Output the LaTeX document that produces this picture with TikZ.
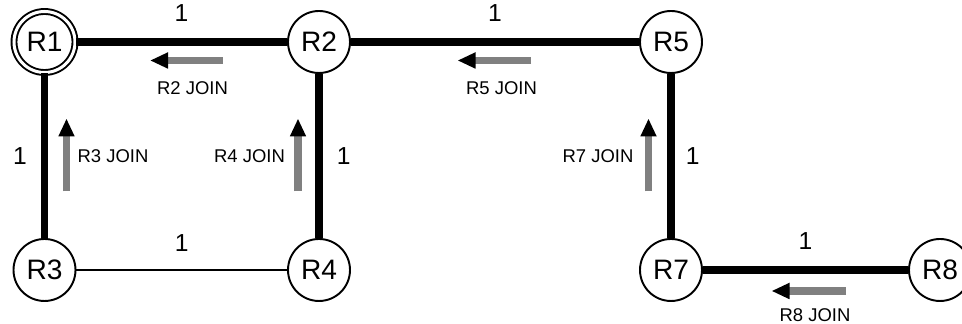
\documentclass[tikz,border=0pt]{standalone}
\usepackage{fontspec}
\setmainfont{Liberation Sans}
\usetikzlibrary{positioning, arrows.meta}
\definecolor{pfeilgrau}{HTML}{808080}

\begin{document}
\begin{tikzpicture}[
    router/.style={
        circle,
        draw=black,
        line width=1.1pt,
        fill=white,
        minimum size=1.24cm,
        inner sep=0pt,
        font=\fontsize{16}{19}\selectfont,
    },
    wurzel/.style={
        router,
        double,
        double distance=0.06cm,
        minimum size=1.22cm,
    },
    pfad/.style={line width=4.3pt},
    nebenpfad/.style={line width=0.6pt},
    kosten/.style={inner sep=0pt, font=\fontsize{14}{17}\selectfont},
    joinpfeil/.style={draw=pfeilgrau, line width=4.5pt,
        -{Triangle[color=black, length=0.36cm, width=0.3cm]}},
    joinlabel/.style={inner sep=0pt, font=\fontsize{10.5}{12}\selectfont},
]

\useasboundingbox (0,0) rectangle (19.24,-6.48);

\node[wurzel] (r1) at ( 0.89, -0.84) {R1};
\node[router] (r2) at ( 6.38, -0.84) {R2};
\node[router] (r5) at (13.42, -0.84) {R5};
\node[router] (r3) at ( 0.89, -5.4)  {R3};
\node[router] (r4) at ( 6.38, -5.4)  {R4};
\node[router] (r7) at (13.42, -5.4)  {R7};
\node[router] (r8) at (18.8,  -5.4)  {R8};

\draw[pfad] (r1) -- node[kosten, above=0.33cm] {1} (r2);
\draw[pfad] (r2) -- node[kosten, above=0.33cm] {1} (r5);
\draw[pfad] (r1) -- node[kosten, left=0.28cm] {1} (r3);
\draw[pfad] (r2) -- node[kosten, right=0.28cm] {1} (r4);
\draw[pfad] (r5) -- node[kosten, right=0.22cm] {1} (r7);
\draw[nebenpfad] (r3) -- node[kosten, above=0.36cm] {1} (r4);
\draw[pfad] (r7) -- node[kosten, above=0.34cm] {1} (r8);

% JOIN-Meldungen
\coordinate (j2a) at ( 4.45, -1.21); \coordinate (j2b) at ( 3.0,  -1.21);
\coordinate (j5a) at (10.62, -1.21); \coordinate (j5b) at ( 9.15, -1.21);
\coordinate (j3a) at ( 1.33, -3.83); \coordinate (j3b) at ( 1.33, -2.37);
\coordinate (j4a) at ( 5.96, -3.83); \coordinate (j4b) at ( 5.96, -2.37);
\coordinate (j7a) at (12.97, -3.83); \coordinate (j7b) at (12.97, -2.37);
\coordinate (j8a) at (16.92, -5.82); \coordinate (j8b) at (15.43, -5.82);

\draw[joinpfeil] (j2a) -- (j2b);
\draw[joinpfeil] (j5a) -- (j5b);
\draw[joinpfeil] (j3a) -- (j3b);
\draw[joinpfeil] (j4a) -- (j4b);
\draw[joinpfeil] (j7a) -- (j7b);
\draw[joinpfeil] (j8a) -- (j8b);

\node[joinlabel] (l2) at ( 3.85, -1.76) {R2 JOIN};
\node[joinlabel] (l5) at (10.03, -1.76) {R5 JOIN};
\node[joinlabel] (l3) at ( 2.26, -3.12) {R3 JOIN};
\node[joinlabel] (l4) at ( 4.99, -3.12) {R4 JOIN};
\node[joinlabel] (l7) at (11.96, -3.12) {R7 JOIN};
\node[joinlabel] (l8) at (16.3,  -6.3)  {R8 JOIN};

\end{tikzpicture}
\end{document}
